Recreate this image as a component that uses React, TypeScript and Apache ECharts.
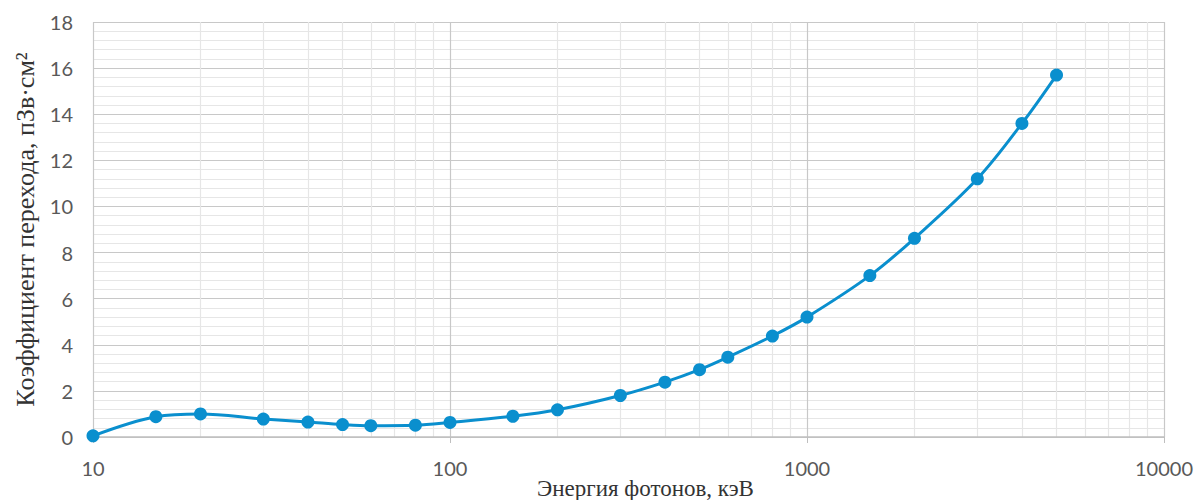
import React, { useEffect, useRef } from "react";
import * as echarts from "echarts";

const energies = [10, 15, 20, 30, 40, 50, 60, 80, 100, 150, 200, 300, 400, 500, 600, 800, 1000, 1500, 2000, 3000, 4000, 5000];
const coefficients = [0.05, 0.88, 1.0, 0.78, 0.65, 0.54, 0.49, 0.51, 0.63, 0.9, 1.18, 1.8, 2.38, 2.92, 3.46, 4.38, 5.2, 7.0, 8.62, 11.2, 13.6, 15.7];
const minorX = [20, 30, 40, 50, 60, 70, 80, 90, 200, 300, 400, 500, 600, 700, 800, 900, 2000, 3000, 4000, 5000, 6000, 7000, 8000, 9000];
const xTitle = "Энергия фотонов, кэВ";
const yTitle = "Коэффициент перехода, пЗв·см²";

export default function App() {
  const ref = useRef<HTMLDivElement>(null);
  useEffect(() => {
    const chart = echarts.init(ref.current!, null, { renderer: "svg" });
    const tickFont = { fontFamily: "Lato", fontSize: 20, color: "#595959" };
    const points = energies.map((e, i) => [e, coefficients[i]]);
    chart.setOption({
      animation: false,
      grid: { left: 93, right: 33, top: 22, bottom: 63, outerBoundsMode: "none", containLabel: false },
      xAxis: {
        type: "log",
        logBase: 10,
        min: 10,
        max: 10000,
        name: xTitle,
        nameLocation: "middle",
        nameGap: 40,
        nameMoveOverlap: false,
        nameTextStyle: { fontFamily: "Liberation Serif", fontSize: 23, color: "#333", padding: [0, 0, 0, 34] },
        axisLine: { show: true, lineStyle: { color: "#bfbfbf", width: 1.5 } },
        axisTick: { show: true, length: 6, lineStyle: { color: "#bfbfbf" } },
        axisLabel: { ...tickFont, margin: 21, formatter: (v: number) => String(v) },
        splitLine: { show: true, lineStyle: { color: "#c8c8c8", width: 1.2 } },
        z: 3,
      },
      yAxis: {
        type: "value",
        min: 0,
        max: 18,
        interval: 2,
        name: yTitle,
        nameLocation: "middle",
        nameGap: 55,
        nameMoveOverlap: false,
        nameTextStyle: { fontFamily: "Liberation Serif", fontSize: 26, color: "#333" },
        axisLine: { show: false },
        axisTick: { show: false },
        axisLabel: { ...tickFont, margin: 20 },
        splitLine: { show: true, lineStyle: { color: "#c8c8c8", width: 1.2 } },
        minorTick: { show: false, splitNumber: 5 },
        minorSplitLine: { show: true, lineStyle: { color: "#e6e6e6", width: 1.2 } },
      },
      series: [
        {
          type: "line",
          data: points,
          smooth: 0.35,
          symbol: "circle",
          symbolSize: 13,
          lineStyle: { color: "#0a8fce", width: 3 },
          itemStyle: { color: "#0a8fce" },
          z: 5,
          markLine: {
            silent: true,
            symbol: "none",
            label: { show: false },
            lineStyle: { color: "#e6e6e6", width: 1.2, type: "solid" },
            z: 1,
            data: minorX.map((v) => ({ xAxis: v })),
          },
        },
      ],
    });
    return () => chart.dispose();
  }, []);
  return <div ref={ref} style={{ width: 1197, height: 500, position: "absolute", left: 0, top: 0 }} />;
}
